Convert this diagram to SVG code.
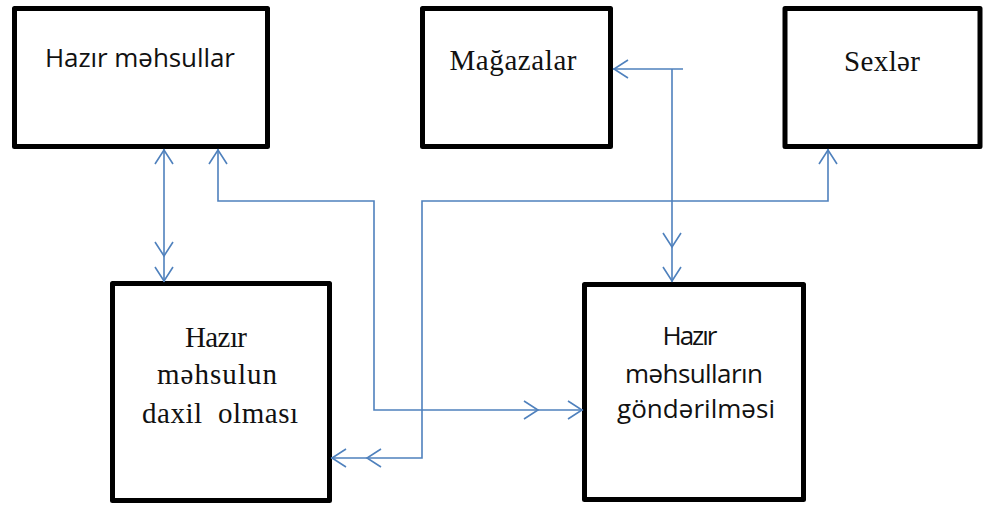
<svg xmlns="http://www.w3.org/2000/svg" xmlns:xlink="http://www.w3.org/1999/xlink" width="987" height="506" viewBox="0 0 987 506">
<style>
.box{fill:#fff;stroke:#000;stroke-width:5;stroke-linejoin:round}
.sans{font-family:"Open Sans","Liberation Sans",sans-serif;font-size:26px;fill:#111}
.serif{font-family:"Liberation Serif","DejaVu Serif",serif;font-size:29px;fill:#111}
.ln{fill:none;stroke:#4F81BD;stroke-width:1.6}
</style>
<defs>
<path id="ah" d="M-14,-9 L0,0 L-14,9" fill="none" stroke="#4F81BD" stroke-width="1.6"/>
</defs>
<rect width="987" height="506" fill="#fff"/>
<g id="hazir-mehsullar">
<rect class="box" x="14.5" y="8.5" width="253" height="138"/>
<text class="sans" x="140" y="67" text-anchor="middle" textLength="190">Hazır məhsullar</text>
</g>
<g id="magazalar">
<rect class="box" x="422.5" y="8.5" width="188" height="138"/>
<text class="serif" x="513" y="70" text-anchor="middle" textLength="127">Mağazalar</text>
</g>
<g id="sexler">
<rect class="box" x="785" y="8.5" width="195" height="138"/>
<text class="serif" x="882" y="71" text-anchor="middle" textLength="76">Sexlər</text>
</g>
<g id="daxil-olmasi">
<rect class="box" x="112.5" y="283.5" width="217" height="217"/>
<text class="serif" x="216" y="347" text-anchor="middle" textLength="62">Hazır</text>
<text class="serif" x="217" y="384" text-anchor="middle" textLength="120">məhsulun</text>
<text class="serif" x="220" y="423" text-anchor="middle" textLength="156" xml:space="preserve">daxil  olması</text>
</g>
<g id="gonderilmesi">
<rect class="box" x="584.5" y="284.5" width="219" height="215"/>
<text class="sans" x="690" y="345" text-anchor="middle" textLength="55">Hazır</text>
<text class="sans" x="694" y="383" text-anchor="middle" textLength="138">məhsulların</text>
<text class="sans" x="696" y="418" text-anchor="middle" textLength="158">göndərilməsi</text>
</g>
<g id="connectors">
<path class="ln" d="M164,149 V282"/>
<use xlink:href="#ah" transform="translate(164,150) rotate(-90)"/>
<use xlink:href="#ah" transform="translate(164,256) rotate(90)"/>
<use xlink:href="#ah" transform="translate(164,281) rotate(90)"/>
<path class="ln" d="M218,149 V201 H374 V410 H583"/>
<use xlink:href="#ah" transform="translate(218,150) rotate(-90)"/>
<use xlink:href="#ah" transform="translate(538,410)"/>
<use xlink:href="#ah" transform="translate(582,410)"/>
<path class="ln" d="M828,149 V201 H422 V458 H331"/>
<use xlink:href="#ah" transform="translate(828,150) rotate(-90)"/>
<use xlink:href="#ah" transform="translate(367,458) rotate(180)"/>
<use xlink:href="#ah" transform="translate(332,458) rotate(180)"/>
<path class="ln" d="M683,69 H613 M672,69 V282"/>
<use xlink:href="#ah" transform="translate(614,69) rotate(180)"/>
<use xlink:href="#ah" transform="translate(672,247) rotate(90)"/>
<use xlink:href="#ah" transform="translate(672,281) rotate(90)"/>
</g>
</svg>
